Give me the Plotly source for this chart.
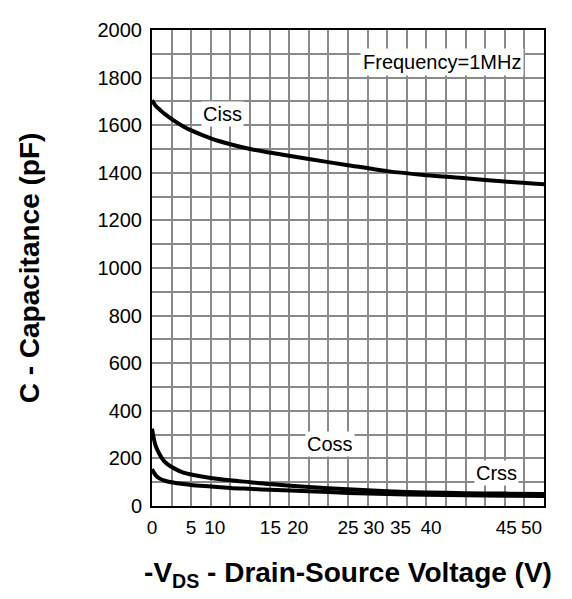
import plotly.graph_objects as go

vds = [0, 0.25, 0.5, 1, 1.5, 2, 3, 4, 5, 7.5, 10, 12.5, 15, 20, 25, 30, 35, 40, 45, 50]
ciss = [1705, 1692, 1680, 1665, 1650, 1638, 1615, 1595, 1578, 1545, 1520, 1500, 1485, 1458, 1432, 1407, 1390, 1377, 1363, 1352]
coss = [325, 280, 250, 215, 190, 175, 155, 140, 132, 118, 108, 100, 92, 80, 70, 62, 57, 54, 52, 50]
crss = [155, 140, 128, 115, 108, 103, 97, 92, 88, 82, 76, 72, 68, 62, 55, 50, 47, 45, 43, 42]

x_tick_pos = [0, 4.98, 8.0, 15.1, 18.6, 25.0, 28.3, 31.7, 35.6, 45.2, 48.4]
x_tick_text = ["0", "5", "10", "15", "20", "25", "30", "35", "40", "45", "50"]
y_tick_vals = [0, 200, 400, 600, 800, 1000, 1200, 1400, 1600, 1800, 2000]

FONT = "Liberation Sans, Arial, sans-serif"
GRID = "#8a8a8a"
fig = go.Figure()
for name, ys in [("Ciss", ciss), ("Coss", coss), ("Crss", crss)]:
    fig.add_trace(go.Scatter(x=vds, y=ys, mode="lines", name=name,
                             line=dict(color="black", width=4, shape="spline", smoothing=0.8),
                             showlegend=False))

ann_font = dict(family=FONT, size=20, color="black")
fig.add_annotation(x=37.0, y=1864, text="Frequency=1MHz", showarrow=False, bgcolor="white", font=ann_font, borderpad=2)
fig.add_annotation(x=9.0, y=1645, text="Ciss", showarrow=False, bgcolor="white", font=ann_font, borderpad=1)
fig.add_annotation(x=22.7, y=259, text="Coss", showarrow=False, bgcolor="white", font=ann_font, borderpad=1)
fig.add_annotation(x=43.9, y=140, text="Crss", showarrow=False, bgcolor="white", font=ann_font, borderpad=1)

fig.update_layout(
    width=572, height=599,
    margin=dict(l=144, r=36, t=11, b=101),
    plot_bgcolor="white", paper_bgcolor="white",
    font=dict(family=FONT, size=20, color="black"),
    xaxis=dict(range=[0, 50], tickmode="array", tickvals=x_tick_pos, ticktext=x_tick_text,
               showgrid=False, ticks="outside", ticklen=3, tickcolor="rgba(0,0,0,0)",
               showline=True, linecolor="black", linewidth=2, mirror=True,
               zeroline=False, tickfont=dict(size=19),
               minor=dict(tickmode="linear", tick0=0, dtick=2.5, showgrid=True, gridcolor=GRID, gridwidth=1.5, ticks=""),
               title=dict(text="<b>-V<sub>DS</sub> - Drain-Source Voltage (V)</b>", font=dict(size=28), standoff=26)),
    yaxis=dict(range=[0, 2000], tickmode="array", tickvals=y_tick_vals,
               showgrid=True, gridcolor=GRID, gridwidth=1.5,
               ticks="outside", ticklen=4, tickcolor="rgba(0,0,0,0)",
               showline=True, linecolor="black", linewidth=2, mirror=True, zeroline=False,
               tickfont=dict(size=20),
               minor=dict(tickmode="linear", tick0=0, dtick=100, showgrid=True, gridcolor=GRID, gridwidth=1.5, ticks=""),
               title=dict(text="<b>C - Capacitance (pF)</b>", font=dict(size=28), standoff=50)),
)
fig.write_html("out.html")
